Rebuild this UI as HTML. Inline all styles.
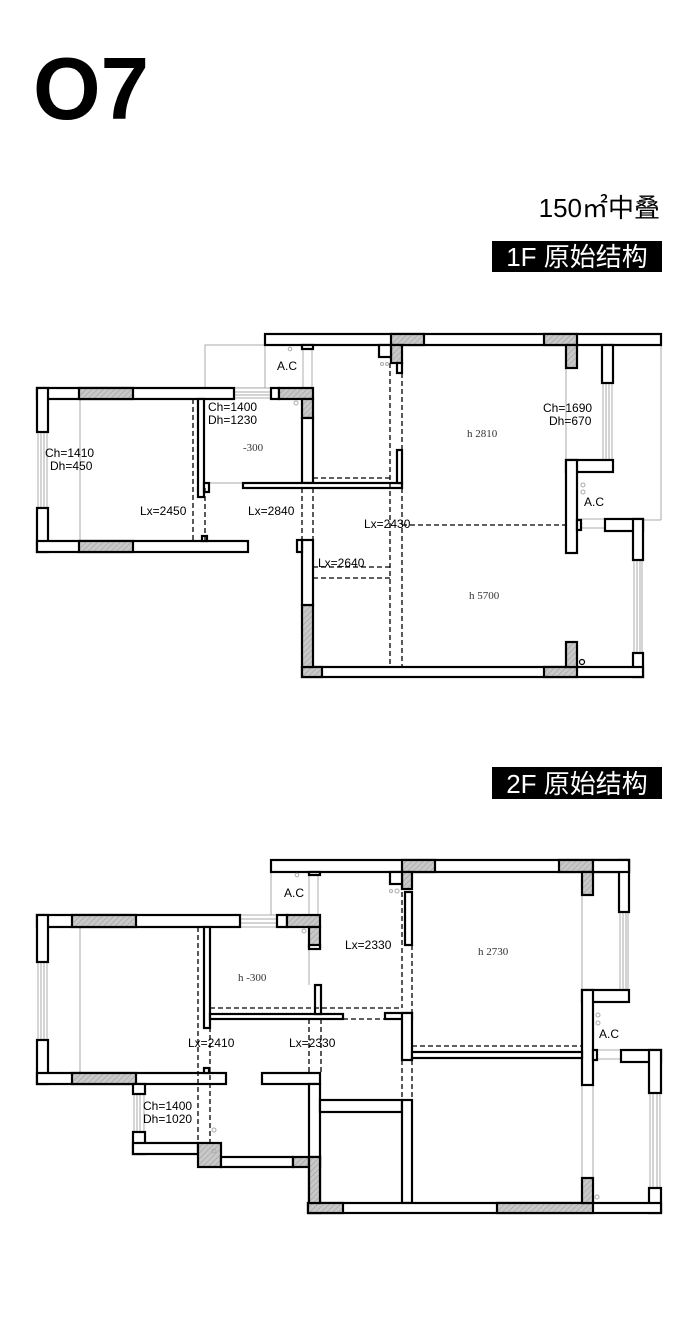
<!DOCTYPE html>
<html><head><meta charset="utf-8"><style>
html,body{margin:0;padding:0;background:#fff;}
svg{display:block}
.w{fill:#fff;stroke:#000;stroke-width:2.2}
.h{fill:url(#hat);stroke:#000;stroke-width:2.2}
.g{fill:none;stroke:#aaa;stroke-width:1}
.d{fill:none;stroke:#000;stroke-width:1.3;stroke-dasharray:5,3}
.t{font-family:"Liberation Sans",sans-serif;font-size:12px;fill:#000}
.s{font-family:"Liberation Serif",serif;font-size:11px;fill:#333}
.win{fill:#fff;stroke:#999;stroke-width:0.8}
</style></head><body>
<svg width="700" height="1317" viewBox="0 0 700 1317" xmlns="http://www.w3.org/2000/svg">
<defs>
<pattern id="hat" width="4" height="4" patternUnits="userSpaceOnUse" patternTransform="rotate(45)">
<rect width="4" height="4" fill="#c8c8c8"/><line x1="0" y1="0" x2="0" y2="4" stroke="#999" stroke-width="1"/>
</pattern>
</defs>
<text x="33" y="119" font-family="Liberation Sans, sans-serif" font-size="88" font-weight="bold" fill="#000" textLength="116" lengthAdjust="spacingAndGlyphs">O7</text>
<text x="660" y="217" text-anchor="end" font-family="Liberation Sans, 'Noto Sans CJK SC', sans-serif" font-size="26" fill="#000">150㎡中叠</text>
<rect x="492" y="241" width="170" height="31" fill="#000"/>
<text x="577" y="266" text-anchor="middle" font-family="Liberation Sans, 'Noto Sans CJK SC', sans-serif" font-size="26" fill="#fff">1F 原始结构</text>
<rect x="492" y="767" width="170" height="32" fill="#000"/>
<text x="577" y="793" text-anchor="middle" font-family="Liberation Sans, 'Noto Sans CJK SC', sans-serif" font-size="26" fill="#fff">2F 原始结构</text>

<!-- ============ 1F ============ -->
<g>
<rect class="g" x="205" y="345" width="60" height="43"/>
<line class="g" x1="205" y1="483" x2="243" y2="483"/>
<line class="g" x1="80" y1="399" x2="80" y2="541"/>
<line class="g" x1="566" y1="368" x2="566" y2="460"/>
<line class="g" x1="661" y1="345" x2="661" y2="520"/>
<line class="g" x1="613" y1="520" x2="661" y2="520"/>
<rect class="win" x="38" y="432" width="9" height="76"/><line class="g" x1="41" y1="432" x2="41" y2="508"/><line class="g" x1="44" y1="432" x2="44" y2="508"/>
<rect class="win" x="234" y="388" width="37" height="10"/><line class="g" x1="234" y1="392" x2="271" y2="392"/><line class="g" x1="234" y1="395" x2="271" y2="395"/>
<rect class="win" x="303" y="345" width="9" height="43"/>
<rect class="win" x="603" y="383" width="9" height="77"/><line class="g" x1="606" y1="383" x2="606" y2="460"/><line class="g" x1="609" y1="383" x2="609" y2="460"/>
<rect class="win" x="577" y="519" width="28" height="9"/>
<rect class="win" x="634" y="560" width="8" height="93"/><line class="g" x1="637" y1="560" x2="637" y2="653"/><line class="g" x1="640" y1="560" x2="640" y2="653"/>
<rect class="w" x="37" y="388" width="197" height="11"/>
<rect class="h" x="79" y="388" width="54" height="11"/>
<rect class="w" x="37" y="388" width="11" height="44"/>
<rect class="w" x="37" y="508" width="11" height="44"/>
<rect class="w" x="37" y="541" width="211" height="11"/>
<rect class="h" x="79" y="541" width="54" height="11"/>
<rect class="w" x="198" y="399" width="6" height="98"/>
<rect class="w" x="204" y="483" width="5" height="9"/>
<rect class="w" x="202" y="536" width="5" height="5"/>
<rect class="w" x="265" y="334" width="396" height="11"/>
<rect class="w" x="302" y="345" width="11" height="4"/>
<rect class="w" x="271" y="388" width="8" height="11"/>
<rect class="h" x="279" y="388" width="34" height="11"/>
<rect class="h" x="302" y="399" width="11" height="19"/>
<rect class="w" x="302" y="418" width="11" height="65"/>
<rect class="w" x="243" y="483" width="159" height="5"/>
<rect class="w" x="397" y="450" width="5" height="33"/>
<rect class="h" x="391" y="334" width="33" height="11"/>
<rect class="h" x="391" y="345" width="11" height="18"/>
<rect class="w" x="397" y="363" width="5" height="10"/>
<rect class="w" x="379" y="345" width="12" height="12"/>
<rect class="h" x="544" y="334" width="33" height="11"/>
<rect class="h" x="566" y="345" width="11" height="23"/>
<rect class="w" x="602" y="345" width="11" height="38"/>
<rect class="w" x="566" y="460" width="47" height="12"/>
<rect class="w" x="566" y="460" width="11" height="93"/>
<rect class="w" x="577" y="520" width="4" height="10"/>
<rect class="w" x="605" y="519" width="38" height="12"/>
<rect class="w" x="633" y="519" width="10" height="41"/>
<rect class="w" x="633" y="653" width="10" height="24"/>
<rect class="w" x="302" y="667" width="341" height="10"/>
<rect class="h" x="302" y="667" width="20" height="10"/>
<rect class="h" x="302" y="605" width="11" height="62"/>
<rect class="w" x="302" y="540" width="11" height="65"/>
<rect class="w" x="297" y="540" width="5" height="12"/>
<rect class="h" x="544" y="667" width="33" height="10"/>
<rect class="h" x="566" y="642" width="11" height="25"/>
<circle cx="582" cy="662" r="2.5" fill="none" stroke="#000" stroke-width="1.2"/>
<circle cx="290" cy="349" r="1.8" class="g"/>
<circle cx="296" cy="403" r="2" class="g"/>
<circle cx="382" cy="364" r="1.5" class="g"/><circle cx="387" cy="364" r="1.5" class="g"/>
<circle cx="583" cy="485" r="2" class="g"/><circle cx="583" cy="492" r="2" class="g"/>
<line class="d" x1="193" y1="399" x2="193" y2="541"/>
<line class="d" x1="205" y1="488" x2="205" y2="541"/>
<line class="d" x1="302" y1="488" x2="302" y2="540"/>
<line class="d" x1="313" y1="488" x2="313" y2="540"/>
<line class="d" x1="390" y1="363" x2="390" y2="667"/>
<line class="d" x1="402" y1="373" x2="402" y2="450"/>
<line class="d" x1="402" y1="488" x2="402" y2="667"/>
<line class="d" x1="313" y1="478" x2="390" y2="478"/>
<line class="d" x1="313" y1="567" x2="390" y2="567"/>
<line class="d" x1="313" y1="578" x2="390" y2="578"/>
<line class="d" x1="402" y1="525" x2="566" y2="525"/>
<text class="t" x="277" y="370">A.C</text>
<text class="t" x="208" y="411">Ch=1400</text>
<text class="t" x="208" y="424">Dh=1230</text>
<text class="s" x="243" y="451">-300</text>
<text class="t" x="45" y="457">Ch=1410</text>
<text class="t" x="50" y="470">Dh=450</text>
<text class="t" x="140" y="515">Lx=2450</text>
<text class="t" x="248" y="515">Lx=2840</text>
<text class="t" x="364" y="528">Lx=2430</text>
<text class="t" x="318" y="567">Lx=2640</text>
<text class="s" x="467" y="437">h  2810</text>
<text class="t" x="543" y="412">Ch=1690</text>
<text class="t" x="549" y="425">Dh=670</text>
<text class="t" x="584" y="506">A.C</text>
<text class="s" x="469" y="599">h  5700</text>
</g>

<!-- ============ 2F ============ -->
<g>
<line class="g" x1="271" y1="872" x2="271" y2="915"/>
<line class="g" x1="80" y1="927" x2="80" y2="1073"/>
<line class="g" x1="309" y1="950" x2="309" y2="985"/>
<line class="g" x1="582" y1="895" x2="582" y2="990"/>
<line class="g" x1="582" y1="1085" x2="582" y2="1178"/>
<line class="g" x1="593" y1="1085" x2="593" y2="1203"/>
<rect class="win" x="38" y="962" width="9" height="78"/><line class="g" x1="41" y1="962" x2="41" y2="1040"/><line class="g" x1="44" y1="962" x2="44" y2="1040"/>
<rect class="win" x="240" y="915" width="37" height="12"/><line class="g" x1="240" y1="919" x2="277" y2="919"/><line class="g" x1="240" y1="923" x2="277" y2="923"/>
<rect class="win" x="309" y="872" width="9" height="43"/>
<rect class="win" x="620" y="912" width="8" height="78"/><line class="g" x1="623" y1="912" x2="623" y2="990"/><line class="g" x1="626" y1="912" x2="626" y2="990"/>
<rect class="win" x="593" y="1050" width="28" height="9"/>
<rect class="win" x="650" y="1093" width="10" height="95"/><line class="g" x1="653" y1="1093" x2="653" y2="1188"/><line class="g" x1="657" y1="1093" x2="657" y2="1188"/>
<rect class="win" x="134" y="1094" width="10" height="38"/><line class="g" x1="137" y1="1094" x2="137" y2="1132"/><line class="g" x1="140" y1="1094" x2="140" y2="1132"/>
<rect class="w" x="37" y="915" width="203" height="12"/>
<rect class="h" x="72" y="915" width="64" height="12"/>
<rect class="w" x="37" y="915" width="11" height="47"/>
<rect class="w" x="37" y="1040" width="11" height="44"/>
<rect class="w" x="37" y="1073" width="189" height="11"/>
<rect class="h" x="72" y="1073" width="64" height="11"/>
<rect class="w" x="204" y="927" width="6" height="101"/>
<rect class="w" x="210" y="1014" width="133" height="5"/>
<rect class="w" x="315" y="985" width="6" height="29"/>
<rect class="w" x="204" y="1068" width="5" height="5"/>
<rect class="w" x="133" y="1084" width="12" height="10"/>
<rect class="w" x="133" y="1132" width="12" height="22"/>
<rect class="w" x="133" y="1143" width="65" height="11"/>
<rect class="h" x="198" y="1143" width="23" height="24"/>
<rect class="w" x="221" y="1157" width="72" height="10"/>
<rect class="h" x="293" y="1157" width="27" height="10"/>
<rect class="h" x="309" y="1157" width="11" height="56"/>
<rect class="w" x="262" y="1073" width="58" height="11"/>
<rect class="w" x="309" y="1084" width="11" height="73"/>
<rect class="w" x="271" y="860" width="358" height="12"/>
<rect class="w" x="309" y="872" width="11" height="3"/>
<rect class="w" x="277" y="915" width="10" height="12"/>
<rect class="h" x="287" y="915" width="33" height="12"/>
<rect class="h" x="309" y="927" width="11" height="20"/>
<rect class="w" x="309" y="945" width="11" height="4"/>
<rect class="h" x="402" y="860" width="33" height="12"/>
<rect class="h" x="402" y="872" width="10" height="17"/>
<rect class="w" x="390" y="872" width="12" height="12"/>
<rect class="w" x="405" y="892" width="7" height="53"/>
<rect class="h" x="559" y="860" width="34" height="12"/>
<rect class="h" x="582" y="872" width="11" height="23"/>
<rect class="w" x="619" y="860" width="10" height="52"/>
<rect class="w" x="593" y="860" width="36" height="12"/>
<rect class="w" x="582" y="990" width="47" height="12"/>
<rect class="w" x="582" y="990" width="11" height="95"/>
<rect class="w" x="593" y="1050" width="4" height="10"/>
<rect class="w" x="621" y="1050" width="40" height="12"/>
<rect class="w" x="649" y="1050" width="12" height="43"/>
<rect class="w" x="649" y="1188" width="12" height="25"/>
<rect class="w" x="385" y="1013" width="27" height="6"/>
<rect class="w" x="402" y="1013" width="10" height="47"/>
<rect class="w" x="412" y="1052" width="170" height="6"/>
<rect class="w" x="320" y="1100" width="82" height="12"/>
<rect class="w" x="402" y="1100" width="10" height="103"/>
<rect class="w" x="308" y="1203" width="353" height="10"/>
<rect class="h" x="308" y="1203" width="35" height="10"/>
<rect class="h" x="497" y="1203" width="96" height="10"/>
<rect class="h" x="582" y="1178" width="11" height="25"/>
<rect class="h" x="309" y="1157" width="11" height="46"/>
<circle cx="297" cy="875" r="1.8" class="g"/>
<circle cx="304" cy="931" r="2" class="g"/>
<circle cx="391" cy="891" r="1.5" class="g"/><circle cx="397" cy="891" r="2" class="g"/>
<circle cx="598" cy="1015" r="2" class="g"/><circle cx="598" cy="1023" r="2" class="g"/>
<circle cx="597" cy="1197" r="2" class="g"/>
<circle cx="214" cy="1130" r="2" class="g"/><circle cx="214" cy="1151" r="2" class="g"/>
<line class="d" x1="198" y1="927" x2="198" y2="1143"/>
<line class="d" x1="210" y1="1019" x2="210" y2="1143"/>
<line class="d" x1="309" y1="1019" x2="309" y2="1073"/>
<line class="d" x1="321" y1="1019" x2="321" y2="1073"/>
<line class="d" x1="210" y1="1008" x2="402" y2="1008"/>
<line class="d" x1="343" y1="1019" x2="385" y2="1019"/>
<line class="d" x1="402" y1="892" x2="402" y2="1008"/>
<line class="d" x1="412" y1="945" x2="412" y2="1050"/>
<line class="d" x1="412" y1="1046" x2="582" y2="1046"/>
<line class="d" x1="402" y1="1060" x2="402" y2="1100"/>
<line class="d" x1="412" y1="1060" x2="412" y2="1100"/>
<line class="d" x1="320" y1="1100" x2="402" y2="1100"/>
<text class="t" x="284" y="897">A.C</text>
<text class="s" x="238" y="981">h  -300</text>
<text class="t" x="345" y="949">Lx=2330</text>
<text class="s" x="478" y="955">h  2730</text>
<text class="t" x="599" y="1038">A.C</text>
<text class="t" x="188" y="1047">Lx=2410</text>
<text class="t" x="289" y="1047">Lx=2330</text>
<text class="t" x="143" y="1110">Ch=1400</text>
<text class="t" x="143" y="1123">Dh=1020</text>
</g>
</svg>
</body></html>
